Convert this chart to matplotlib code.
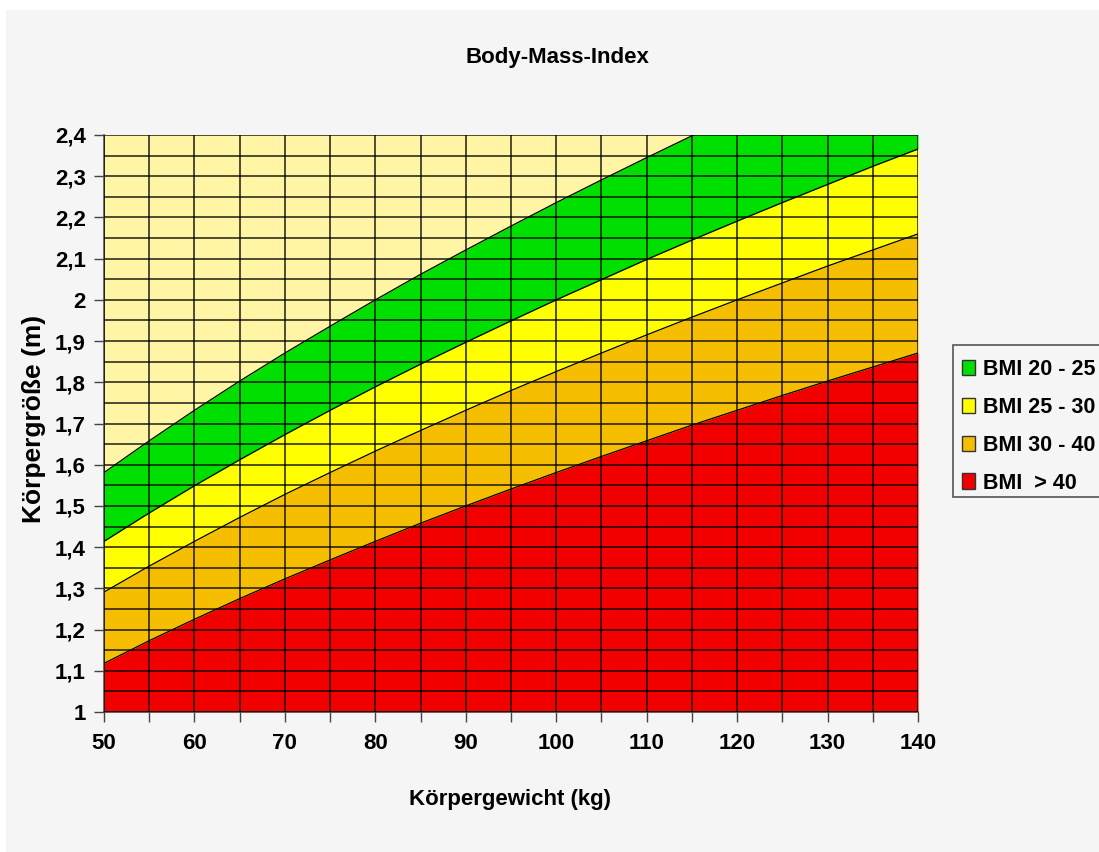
import matplotlib.pyplot as plt
from matplotlib.patches import Rectangle, Patch
import numpy as np

# weight (kg) and the height borders for each BMI class
gewicht = [50, 55, 60, 65, 70, 75, 80, 85, 90, 95, 100, 105, 110, 115, 120, 125, 130, 135, 140]
bmi40 = [1.118, 1.173, 1.225, 1.275, 1.323, 1.369, 1.414, 1.458, 1.50, 1.541, 1.581,
         1.62, 1.658, 1.696, 1.732, 1.768, 1.803, 1.837, 1.871]
bmi30 = [1.291, 1.354, 1.414, 1.472, 1.528, 1.581, 1.633, 1.683, 1.732, 1.78, 1.826,
         1.871, 1.915, 1.958, 2.0, 2.041, 2.082, 2.121, 2.16]
bmi25 = [1.414, 1.483, 1.549, 1.612, 1.673, 1.732, 1.789, 1.844, 1.897, 1.949, 2.0,
         2.049, 2.098, 2.145, 2.191, 2.236, 2.28, 2.324, 2.366]
bmi20 = [1.581, 1.658, 1.732, 1.803, 1.871, 1.936, 2.0, 2.062, 2.121, 2.179, 2.236,
         2.291, 2.345, 2.398, 2.449, 2.5, 2.55, 2.598, 2.646]

labels = ['BMI 20 - 25', 'BMI 25 - 30', 'BMI 30 - 40', 'BMI  > 40']
colors = ['#00E000', '#FFFF00', '#F5BE00', '#F20000']
yticks = [1, 1.1, 1.2, 1.3, 1.4, 1.5, 1.6, 1.7, 1.8, 1.9, 2, 2.1, 2.2, 2.3, 2.4]
ytick_labels = ['1', '1,1', '1,2', '1,3', '1,4', '1,5', '1,6', '1,7', '1,8', '1,9',
                '2', '2,1', '2,2', '2,3', '2,4']
xticks = [50, 60, 70, 80, 90, 100, 110, 120, 130, 140]

plt.rcParams['font.family'] = ['Liberation Sans', 'DejaVu Sans']
plt.rcParams['font.weight'] = 'bold'

fig = plt.figure(figsize=(10.99, 8.52), dpi=100, facecolor='white')
# grey panel behind everything
fig.patches.append(Rectangle((6 / 1099, 0), 1, 1 - 10 / 852, transform=fig.transFigure,
                             facecolor='#F5F5F5', edgecolor='none', zorder=-5))

ax = fig.add_axes([104 / 1099, 1 - 712 / 852, 814 / 1099, 577 / 852])
ax.set_zorder(2)
ax.set_facecolor('#FFF5A5')

x = np.array(gewicht)
ax.fill_between(x, 1, bmi40, color=colors[3], lw=0)
ax.fill_between(x, bmi40, bmi30, color=colors[2], lw=0)
ax.fill_between(x, bmi30, bmi25, color=colors[1], lw=0)
ax.fill_between(x, bmi25, bmi20, color=colors[0], lw=0)
for b in [bmi40, bmi30, bmi25, bmi20]:
    ax.plot(x, b, color='black', lw=0.9, zorder=2)

ax.set_xlim(50, 140)
ax.set_ylim(1, 2.4)
ax.set_xticks(xticks)
ax.set_xticks(np.arange(55, 140, 10), minor=True)
ax.set_yticks(yticks)
ax.set_yticklabels(ytick_labels)
ax.set_yticks(np.arange(1.05, 2.4, 0.1), minor=True)

ax.set_axisbelow(False)
ax.grid(True, which='both', color='black', lw=1.3, alpha=0.75)

ax.tick_params(axis='both', which='major', labelsize=16, direction='out', color='#444444',
               length=7, width=1)
ax.tick_params(axis='x', which='minor', direction='out', length=7, width=1, color='#444444')
ax.tick_params(axis='y', which='minor', length=0)
ax.tick_params(axis='x', pad=8)
ax.tick_params(axis='y', pad=6)
for s in ['top', 'right']:
    ax.spines[s].set_visible(False)
for s in ['left', 'bottom']:
    ax.spines[s].set_color('#555555')
    ax.spines[s].set_linewidth(1.2)

fig.text(557 / 1099, 1 - 58 / 852, 'Body-Mass-Index', ha='center', va='center',
         fontsize=16, fontweight='bold')
fig.text(510 / 1099, 1 - 800 / 852, 'Körpergewicht (kg)', ha='center', va='center',
         fontsize=16, fontweight='bold')
fig.text(34 / 1099, 1 - 419 / 852, 'Körpergröße (m)', ha='center', va='center',
         rotation=90, fontsize=19, fontweight='bold')

# legend frame runs off the right edge
fig.patches.append(Rectangle((953 / 1099, 1 - 497 / 852), 0.2, 152 / 852,
                             transform=fig.transFigure, facecolor='#F5F5F5',
                             edgecolor='#555555', lw=1.2, zorder=1))
handles = [Patch(facecolor=c, edgecolor='#333333', lw=1) for c in colors]
leg = fig.legend(handles, labels, loc='upper left', bbox_to_anchor=(946 / 1099, 1 - 343 / 852),
                 frameon=False, fontsize=15.5, handlelength=0.6, handleheight=0.7,
                 handletextpad=0.35, labelspacing=0.78, borderpad=0.25)
leg.set_zorder(3)

fig.savefig('out.png', dpi=100, facecolor=fig.get_facecolor())
